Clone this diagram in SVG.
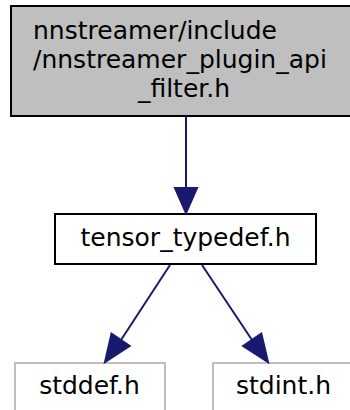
<svg xmlns="http://www.w3.org/2000/svg" width="350" height="410" viewBox="0 0 350 410">
<style>
text{font-family:"DejaVu Sans",sans-serif;font-size:25px;fill:#000}
.edge line{stroke:#191970;stroke-width:2}
.edge polygon{fill:#191970;stroke:#191970;stroke-width:2}
.gray rect{fill:#fff;stroke:#bfbfbf;stroke-width:2}
</style>
<rect width="350" height="410" fill="#fff"/>
<g id="node1">
<rect x="11" y="6" width="346" height="110" fill="#bfbfbf" stroke="#000" stroke-width="2"/>
<text x="33" y="39">nnstreamer/include</text>
<text x="33" y="68">/nnstreamer_plugin_api</text>
<text x="184" y="97" text-anchor="middle">_filter.h</text>
</g>
<g id="node2">
<rect x="55" y="214" width="261" height="50" fill="#fff" stroke="#000" stroke-width="2"/>
<text x="185.5" y="246" text-anchor="middle">tensor_typedef.h</text>
</g>
<g id="node3" class="gray">
<rect x="15" y="363" width="150" height="52"/>
<text x="89.5" y="394" text-anchor="middle">stddef.h</text>
</g>
<g id="node4" class="gray">
<rect x="213" y="363" width="150" height="52"/>
<text x="283.5" y="394" text-anchor="middle">stdint.h</text>
</g>
<g id="edges" class="edge">
<line x1="186" y1="117" x2="186" y2="188"/>
<polygon points="175,188 186,213 197,188"/>
<line x1="170" y1="265" x2="121" y2="340"/>
<polygon points="129.7,345.9 105,362 111.5,333.7"/>
<line x1="202" y1="265" x2="252" y2="340"/>
<polygon points="261.3,333.6 268,362 243.1,346"/>
</g>
</svg>
